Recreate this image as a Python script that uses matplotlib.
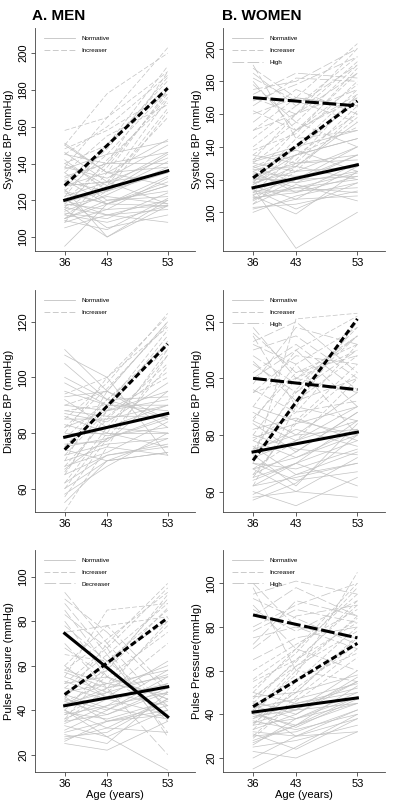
import matplotlib
matplotlib.use('Agg')
import matplotlib.pyplot as plt
from matplotlib.lines import Line2D

plt.rcParams['font.family'] = ['Liberation Sans', 'DejaVu Sans']

AGES = [36, 43, 53]
MEAN_AGES = [36, 53]

# individual trajectories: values at ages 36, 43, 53
MEN_SBP_NORM = [[118, 115, 117], [120, 112, 108], [125, 118, 128], [110, 120, 122], [115, 100, 120],
                [95, 118, 130], [130, 125, 141], [140, 128, 146], [150, 135, 153], [112, 108, 117],
                [122, 130, 135], [145, 140, 140], [135, 120, 125], [108, 115, 132], [128, 135, 138],
                [117, 122, 118], [113, 110, 124], [138, 132, 150], [124, 118, 117], [119, 125, 145],
                [142, 125, 135], [151, 135, 128], [116, 112, 120], [133, 140, 146], [110, 118, 128],
                [126, 100, 117], [105, 112, 115], [128, 130, 118], [121, 105, 112], [137, 145, 152],
                [114, 123, 138], [146, 130, 143], [109, 104, 121], [131, 118, 133]]
MEN_SBP_INC = [[158, 165, 203], [150, 178, 200], [120, 140, 190], [130, 150, 185], [115, 130, 175],
               [125, 145, 180], [140, 150, 193], [110, 128, 170], [135, 155, 172], [118, 138, 178],
               [128, 130, 165], [145, 160, 188], [122, 150, 182], [132, 140, 176], [112, 125, 168],
               [108, 135, 180], [138, 165, 190], [127, 148, 187], [148, 158, 178], [116, 142, 173]]
MEN_SBP_MEAN = {'norm': [120, 136], 'inc': [128, 181]}

WOMEN_SBP_NORM = [[115, 78, 100], [110, 99, 125], [113, 113, 115], [120, 120, 122], [125, 112, 130],
                  [108, 115, 120], [118, 125, 128], [103, 105, 113], [130, 125, 140], [100, 110, 118],
                  [122, 130, 135], [128, 118, 125], [112, 120, 140], [116, 108, 110], [135, 130, 132],
                  [105, 117, 107], [119, 135, 145], [124, 122, 128], [111, 115, 124], [132, 140, 150],
                  [114, 102, 118], [126, 128, 155], [109, 112, 122], [121, 118, 135], [102, 108, 128],
                  [117, 128, 120], [127, 135, 145], [107, 120, 135], [123, 115, 112], [131, 138, 125]]
WOMEN_SBP_INC = [[120, 140, 175], [130, 150, 185], [110, 130, 165], [140, 160, 200], [115, 140, 170],
                 [125, 135, 160], [135, 155, 190], [105, 128, 158], [145, 165, 195], [118, 145, 180],
                 [128, 138, 168], [112, 135, 152], [150, 170, 203], [122, 150, 178], [108, 125, 162],
                 [138, 148, 188], [117, 132, 172], [132, 160, 192]]
WOMEN_SBP_HIGH = [[185, 165, 190], [175, 180, 200], [165, 182, 180], [180, 150, 170], [170, 160, 185],
                  [155, 175, 160], [190, 145, 150], [160, 170, 165], [178, 155, 140], [150, 160, 175],
                  [168, 178, 195], [182, 168, 155], [162, 150, 172], [172, 185, 182], [188, 170, 165]]
WOMEN_SBP_MEAN = {'norm': [115, 129], 'inc': [121, 168], 'high': [170, 165]}

MEN_DBP_NORM = [[110, 95, 82], [105, 92, 85], [108, 100, 72], [90, 88, 95], [85, 85, 90], [80, 80, 80],
                [75, 78, 85], [70, 75, 72], [65, 72, 75], [60, 70, 73], [55, 70, 78], [95, 90, 88],
                [88, 86, 86], [78, 82, 90], [72, 76, 78], [68, 73, 84], [92, 82, 80], [83, 79, 82],
                [76, 77, 95], [62, 72, 76], [87, 84, 98], [98, 90, 90], [74, 70, 73], [100, 92, 93],
                [58, 68, 80], [82, 88, 92], [67, 78, 86], [93, 95, 85], [86, 80, 75]]
MEN_DBP_INC = [[52, 75, 108], [60, 80, 110], [65, 88, 115], [70, 95, 120], [75, 92, 112], [80, 100, 118],
               [85, 98, 123], [68, 85, 105], [90, 95, 120], [72, 88, 100], [78, 92, 110], [62, 82, 108],
               [88, 90, 117], [94, 100, 122], [57, 78, 104], [74, 90, 113], [82, 96, 119], [66, 86, 102]]
MEN_DBP_MEAN = {'norm': [78.5, 87], 'inc': [74, 112]}

WOMEN_DBP_NORM = [[57, 63, 80], [60, 55, 65], [65, 70, 78], [70, 68, 75], [75, 80, 82], [80, 75, 73],
                  [68, 60, 58], [72, 78, 90], [62, 65, 70], [85, 78, 85], [78, 72, 80], [66, 74, 88],
                  [74, 82, 76], [58, 60, 72], [88, 80, 95], [70, 64, 67], [82, 86, 78], [64, 70, 85],
                  [76, 66, 70], [90, 85, 80], [62, 70, 62], [84, 74, 88], [68, 72, 82], [79, 84, 90],
                  [59, 66, 74], [73, 62, 84]]
WOMEN_DBP_INC = [[62, 90, 120], [70, 121, 123], [75, 95, 115], [80, 100, 110], [65, 85, 105],
                 [85, 105, 118], [68, 78, 100], [90, 110, 122], [72, 92, 108], [78, 88, 112], [95, 100, 115],
                 [66, 84, 102], [74, 96, 118], [86, 102, 112]]
WOMEN_DBP_HIGH = [[118, 100, 95], [110, 115, 100], [105, 95, 110], [100, 110, 90], [115, 90, 85],
                  [95, 108, 105], [112, 105, 80], [108, 98, 115], [102, 112, 96], [96, 88, 92],
                  [113, 120, 102], [116, 102, 108], [98, 118, 112], [106, 92, 100]]
WOMEN_DBP_MEAN = {'norm': [74, 81], 'inc': [71, 121], 'high': [100, 96]}

MEN_PP_NORM = [[25, 22, 35], [28, 30, 45], [30, 35, 40], [35, 38, 50], [40, 32, 45], [45, 40, 55],
               [50, 45, 52], [38, 42, 48], [42, 50, 60], [55, 48, 42], [60, 45, 50], [33, 28, 40],
               [48, 52, 58], [27, 32, 30], [36, 45, 38], [44, 38, 48], [52, 55, 45], [40, 28, 13],
               [31, 40, 52], [57, 50, 55], [46, 35, 42], [26, 35, 38], [34, 42, 58], [39, 36, 44],
               [47, 41, 36], [53, 46, 62], [29, 25, 48], [43, 48, 56], [58, 52, 47]]
MEN_PP_INC = [[40, 60, 90], [45, 70, 97], [35, 50, 80], [50, 65, 88], [55, 85, 88], [60, 78, 82],
              [42, 55, 75], [38, 48, 70], [48, 58, 92], [65, 62, 85], [52, 68, 95], [44, 52, 78],
              [36, 58, 86], [58, 72, 93], [46, 62, 80]]
MEN_PP_DEC = [[93, 70, 40], [85, 60, 35], [80, 55, 45], [75, 78, 50], [70, 50, 20], [88, 65, 30],
              [68, 55, 38], [90, 75, 48], [78, 62, 42], [83, 68, 28]]
MEN_PP_MEAN = {'norm': [42, 50.5], 'inc': [47, 81.5], 'dec': [74.5, 37]}

WOMEN_PP_NORM = [[15, 25, 40], [23, 20, 32], [28, 35, 45], [32, 30, 38], [35, 38, 50], [40, 35, 48],
                 [45, 42, 55], [38, 45, 52], [42, 30, 32], [48, 50, 58], [30, 32, 42], [36, 42, 60],
                 [25, 28, 35], [44, 38, 45], [50, 45, 50], [33, 40, 55], [41, 34, 47], [27, 35, 53],
                 [20, 30, 42], [26, 38, 48], [37, 33, 40], [43, 47, 54], [31, 24, 38], [46, 40, 57],
                 [39, 42, 45]]
WOMEN_PP_INC = [[35, 55, 80], [40, 60, 85], [45, 65, 90], [38, 50, 75], [30, 48, 70], [50, 70, 95],
                [42, 58, 105], [55, 65, 82], [48, 62, 78], [33, 52, 72], [60, 72, 88], [44, 56, 68],
                [52, 68, 98], [36, 50, 76], [47, 64, 92], [41, 62, 84], [56, 70, 100], [29, 46, 66]]
WOMEN_PP_HIGH = [[100, 80, 75], [95, 101, 95], [85, 98, 85], [75, 80, 70], [70, 85, 90], [90, 70, 60],
                 [80, 90, 100], [65, 75, 80], [98, 60, 55], [78, 88, 82], [88, 78, 92], [72, 92, 85],
                 [93, 84, 72]]
WOMEN_PP_MEAN = {'norm': [41, 47.5], 'inc': [43.5, 72.5], 'high': [85.5, 75]}

GREY = '#c2c2c2'
THIN = {'norm': '-', 'inc': (0, (7, 3)), 'high': (0, (14, 4)), 'dec': (0, (14, 4))}
THICK = {'norm': '-', 'inc': (0, (2, 1)), 'high': (0, (4.5, 1.2)), 'dec': '-'}
LABELS = {'norm': 'Normative', 'inc': 'Increaser', 'high': 'High', 'dec': 'Decreaser'}

panels = [
    dict(pos=[0.0875, 0.689, 0.40, 0.276], groups={'norm': MEN_SBP_NORM, 'inc': MEN_SBP_INC},
         mean=MEN_SBP_MEAN, ylim=(92.4, 213.6), yticks=range(100, 201, 20), ylabel='Systolic BP (mmHg)'),
    dict(pos=[0.5575, 0.689, 0.405, 0.276],
         groups={'norm': WOMEN_SBP_NORM, 'inc': WOMEN_SBP_INC, 'high': WOMEN_SBP_HIGH},
         mean=WOMEN_SBP_MEAN, ylim=(76.4, 212.4), yticks=range(100, 201, 20), ylabel='Systolic BP (mmHg)'),
    dict(pos=[0.0875, 0.3656, 0.40, 0.275], groups={'norm': MEN_DBP_NORM, 'inc': MEN_DBP_INC},
         mean=MEN_DBP_MEAN, ylim=(51.6, 131.4), yticks=range(60, 121, 20), ylabel='Diastolic BP (mmHg)'),
    dict(pos=[0.5575, 0.3656, 0.405, 0.275],
         groups={'norm': WOMEN_DBP_NORM, 'inc': WOMEN_DBP_INC, 'high': WOMEN_DBP_HIGH},
         mean=WOMEN_DBP_MEAN, ylim=(52.8, 131.2), yticks=range(60, 121, 20), ylabel='Diastolic BP (mmHg)'),
    dict(pos=[0.0875, 0.0434, 0.40, 0.275],
         groups={'norm': MEN_PP_NORM, 'inc': MEN_PP_INC, 'dec': MEN_PP_DEC},
         mean=MEN_PP_MEAN, ylim=(12.2, 112), yticks=range(20, 101, 20), ylabel='Pulse pressure (mmHg)'),
    dict(pos=[0.5575, 0.0434, 0.405, 0.275],
         groups={'norm': WOMEN_PP_NORM, 'inc': WOMEN_PP_INC, 'high': WOMEN_PP_HIGH},
         mean=WOMEN_PP_MEAN, ylim=(13.6, 115.2), yticks=range(20, 101, 20), ylabel='Pulse Pressure(mmHg)'),
]

fig = plt.figure(figsize=(4.0, 8.07), dpi=100)

for i, p in enumerate(panels):
    ax = fig.add_axes(p['pos'])
    for key, lines in p['groups'].items():
        for vals in lines:
            ax.plot(AGES, vals, color=GREY, lw=0.5, ls=THIN[key], zorder=1)
    for key, vals in p['mean'].items():
        ax.plot(MEAN_AGES, vals, color='black', lw=2.2, ls=THICK[key], zorder=3)

    handles = [Line2D([], [], color=GREY, lw=0.6, ls=THIN[k]) for k in p['groups']]
    ax.legend(handles, [LABELS[k] for k in p['groups']], loc='upper left', bbox_to_anchor=(0.02, 0.99),
              frameon=False, fontsize=4.5, handlelength=5, handletextpad=1.0, labelspacing=1.0)

    ax.set_xlim(31.1, 57.5)
    ax.set_ylim(*p['ylim'])
    ax.set_xticks(AGES)
    ax.set_yticks(list(p['yticks']))
    ax.tick_params(labelsize=8, length=3, width=0.6, color='#444444', pad=2)
    for lab in ax.get_yticklabels():
        lab.set_rotation(90)
        lab.set_va('center')
    ax.set_ylabel(p['ylabel'], fontsize=8, labelpad=3)
    if i >= 4:
        ax.set_xlabel('Age (years)', fontsize=8, labelpad=1)
    for s in ['top', 'right']:
        ax.spines[s].set_visible(False)
    for s in ['left', 'bottom']:
        ax.spines[s].set_linewidth(0.6)
        ax.spines[s].set_color('#444444')

fig.text(0.08, 0.980, 'A. MEN', fontsize=11, fontweight='bold', va='center', ha='left')
fig.text(0.555, 0.980, 'B. WOMEN', fontsize=11, fontweight='bold', va='center', ha='left')

fig.savefig('out.png', dpi=100)
